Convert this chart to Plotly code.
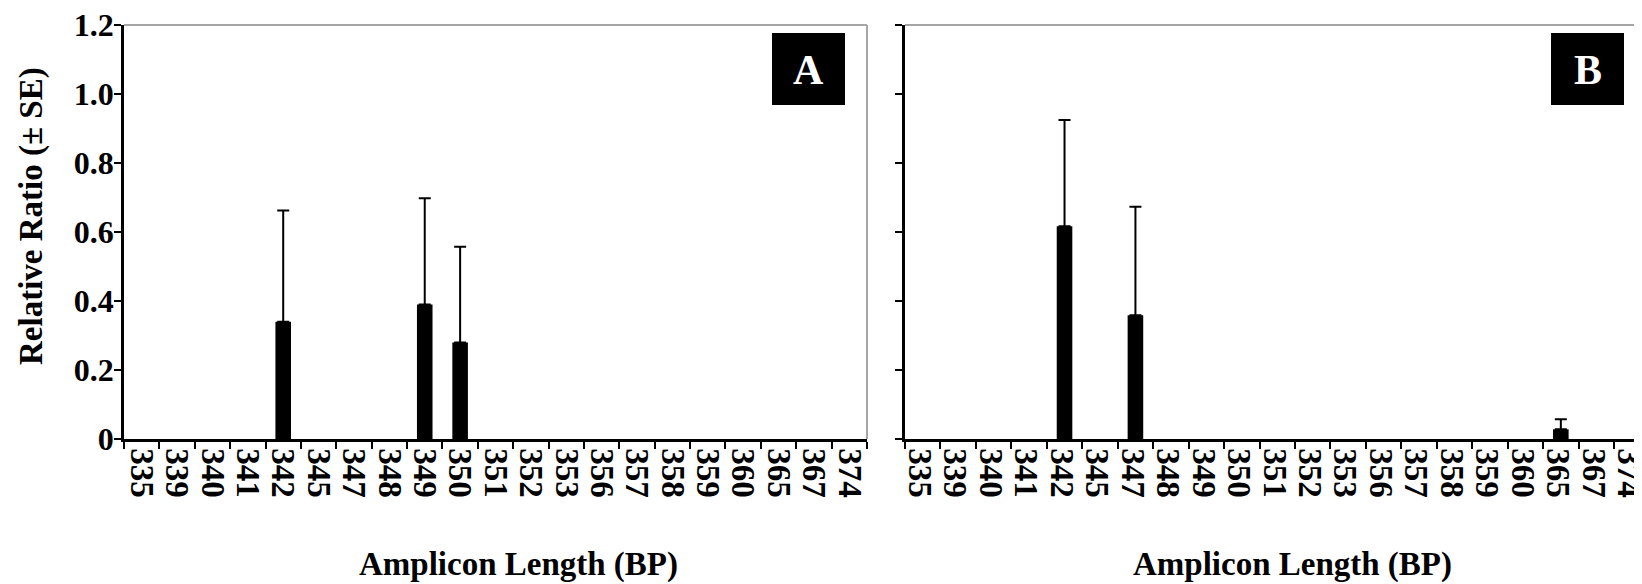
import plotly.graph_objects as go

# ---- data ----
categories = ["335", "339", "340", "341", "342", "345", "347", "348", "349", "350",
              "351", "352", "353", "356", "357", "358", "359", "360", "365", "367", "374"]
ratio_a = [0, 0, 0, 0, 0.34, 0, 0, 0, 0.39, 0.28, 0, 0, 0, 0, 0, 0, 0, 0, 0, 0, 0]
se_a = [0, 0, 0, 0, 0.322, 0, 0, 0, 0.308, 0.277, 0, 0, 0, 0, 0, 0, 0, 0, 0, 0, 0]
ratio_b = [0, 0, 0, 0, 0.617, 0, 0.359, 0, 0, 0, 0, 0, 0, 0, 0, 0, 0, 0, 0.028, 0, 0]
se_b = [0, 0, 0, 0, 0.308, 0, 0.314, 0, 0, 0, 0, 0, 0, 0, 0, 0, 0, 0, 0.029, 0, 0]
y_ticks = [0, 0.2, 0.4, 0.6, 0.8, 1.0, 1.2]
y_tick_text = ["0", "0.2", "0.4", "0.6", "0.8", "1.0", "1.2"]
panel_labels = ["A", "B"]
y_title = "Relative Ratio (± SE)"
x_title = "Amplicon Length (BP)"

PAGE_W, PAGE_H = 1642, 584
OFF = 8  # default body margin of the html page
W, H = PAGE_W - OFF, PAGE_H - OFF
FONT = "Liberation Serif"


def px(x):
    return (x - OFF) / W


def py(y):
    return 1 - (y - OFF) / H


fig = go.Figure()

for i, (vals, errs) in enumerate([(ratio_a, se_a), (ratio_b, se_b)]):
    # zero-valued categories draw nothing (no bar, no error cap)
    keep = [k for k, v in enumerate(vals) if v > 0]
    fig.add_trace(go.Bar(
        x=[categories[k] for k in keep], y=[vals[k] for k in keep],
        xaxis="x" if i == 0 else "x2",
        yaxis="y" if i == 0 else "y2",
        marker=dict(color="black", line=dict(width=0)),
        width=0.44,
        error_y=dict(type="data", symmetric=False,
                     array=[errs[k] for k in keep],
                     arrayminus=[0] * len(keep),
                     color="black", thickness=2, width=6),
        showlegend=False,
    ))

ydom = [py(439), py(25)]
n = len(categories)
cat_w_b = 35.45
range_b_end = -0.5 + (PAGE_W - 905) / cat_w_b

axis_common = dict(
    type="category", categoryorder="array", categoryarray=categories,
    tickmode="array", tickvals=categories, ticktext=categories,
    showline=True, linecolor="black", linewidth=2.5,
    ticks="outside", tickson="boundaries", ticklen=7, tickwidth=2, tickcolor="black",
    tickangle=90, tickfont=dict(family=FONT, size=33, color="black", weight="bold"),
    showgrid=False, zeroline=False, fixedrange=True, automargin=False,
    ticklabeloverflow="allow",
)
yaxis_common = dict(
    range=[0, 1.2], showline=True, linecolor="black", linewidth=2.5,
    ticks="outside", ticklen=7, tickwidth=2, tickcolor="black",
    tickmode="array", tickvals=y_ticks, showgrid=False, zeroline=False, fixedrange=True,
    tickfont=dict(family=FONT, size=32, color="black", weight="bold"), automargin=False,
    ticklabeloverflow="allow",
)

fig.update_layout(
    width=W, height=H, autosize=False,
    margin=dict(l=0, r=0, t=0, b=0, autoexpand=False),
    paper_bgcolor="white", plot_bgcolor="white",
    xaxis=dict(domain=[px(124), px(867)], anchor="y", range=[-0.5, n - 0.5], **axis_common),
    yaxis=dict(domain=ydom, anchor="x", ticktext=y_tick_text, ticklabelstandoff=-6,
               **yaxis_common),
    xaxis2=dict(domain=[px(905), 1.0], anchor="y2", range=[-0.5, range_b_end],
                ticklabelshift=-3, **axis_common),
    yaxis2=dict(domain=ydom, anchor="x2", showticklabels=False, **yaxis_common),
)

gray = "#a6a6a6"
shapes = [
    dict(type="line", xref="x domain", yref="y domain", x0=0, x1=1, y0=1, y1=1,
         line=dict(color=gray, width=2), layer="below"),
    dict(type="line", xref="x domain", yref="y domain", x0=1, x1=1, y0=0, y1=1,
         line=dict(color=gray, width=2), layer="below"),
    dict(type="line", xref="x2 domain", yref="y2 domain", x0=0, x1=1, y0=1, y1=1,
         line=dict(color=gray, width=2), layer="below"),
    dict(type="rect", xref="paper", yref="paper", x0=px(772), x1=px(845), y0=py(105), y1=py(33),
         fillcolor="black", line=dict(width=0)),
    dict(type="rect", xref="paper", yref="paper", x0=px(1551), x1=px(1624), y0=py(105), y1=py(33),
         fillcolor="black", line=dict(width=0)),
]
fig.update_layout(shapes=shapes)

ann = [
    dict(text=panel_labels[0], x=px(808.5), y=py(70), xref="paper", yref="paper",
         showarrow=False, font=dict(family=FONT, size=42, color="white", weight="bold"),
         xanchor="center", yanchor="middle"),
    dict(text=panel_labels[1], x=px(1587.5), y=py(70), xref="paper", yref="paper",
         showarrow=False, font=dict(family=FONT, size=42, color="white", weight="bold"),
         xanchor="center", yanchor="middle"),
    dict(text="<b>" + y_title + "</b>", x=px(31), y=py(216), xref="paper", yref="paper",
         showarrow=False, textangle=-90, font=dict(family=FONT, size=33, color="black"),
         xanchor="center", yanchor="middle"),
    dict(text="<b>" + x_title + "</b>", x=px(518), y=py(564), xref="paper", yref="paper",
         showarrow=False, font=dict(family=FONT, size=33, color="black"),
         xanchor="center", yanchor="middle"),
    dict(text="<b>" + x_title + "</b>", x=px(1292), y=py(564), xref="paper", yref="paper",
         showarrow=False, font=dict(family=FONT, size=33, color="black"),
         xanchor="center", yanchor="middle"),
]
fig.update_layout(annotations=ann)

fig.write_html("out.html")
